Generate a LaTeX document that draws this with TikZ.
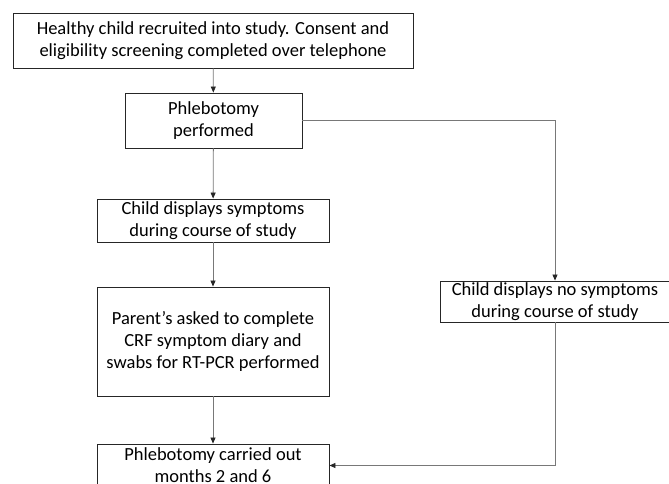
\documentclass[tikz,border=0pt]{standalone}
\usepackage{fontspec}
\setmainfont{Carlito}
\usepackage{xcolor}
\usetikzlibrary{arrows.meta}

\definecolor{linegray}{RGB}{120,120,120}

\begin{document}
\begin{tikzpicture}[x=1pt,y=-1pt,
        box/.style={draw=black!85,line width=0.9pt,align=center,inner sep=0pt,
            font=\fontsize{18.5}{22}\selectfont},
        link/.style={draw=linegray,line width=0.8pt,
            -{Triangle[length=6pt,width=5pt,color=black!85]}}]
            \useasboundingbox (0,0) rectangle (669,484);
            \clip (0,0) rectangle (669,484);

            \node (consent) at (213,40.5) [box,minimum width=400pt,minimum height=55pt]
                {Healthy child recruited into study. Consent and\\eligibility screening completed over telephone};
            \node (phleb) at (213.5,120.5) [box,minimum width=177pt,minimum height=55pt]
                {Phlebotomy\\performed};
            \node (sympt) at (213,220.5) [box,minimum width=232pt,minimum height=43pt]
                {Child displays symptoms\\during course of study};
            \node (parent) at (213,341.5) [box,minimum width=232pt,minimum height=109pt]
                {Parent’s asked to complete\\CRF symptom diary and\\swabs for RT-PCR performed};
            \node (nosympt) at (555,301.5) [box,minimum width=230pt,minimum height=41pt]
                {Child displays no symptoms\\during course of study};
            \node (month) at (213,465.5) [box,minimum width=232pt,minimum height=43pt]
                {Phlebotomy carried out\\months 2 and 6};

            \draw[link] (consent) -- (phleb);
            \draw[link] (phleb) -- (sympt);
            \draw[link] (sympt) -- (parent);
            \draw[link] (parent) -- (month);
            \draw[link] (phleb.east) -| (nosympt.north);
            \draw[link] (nosympt.south) |- (month.east);

        \end{tikzpicture}
\end{document}
